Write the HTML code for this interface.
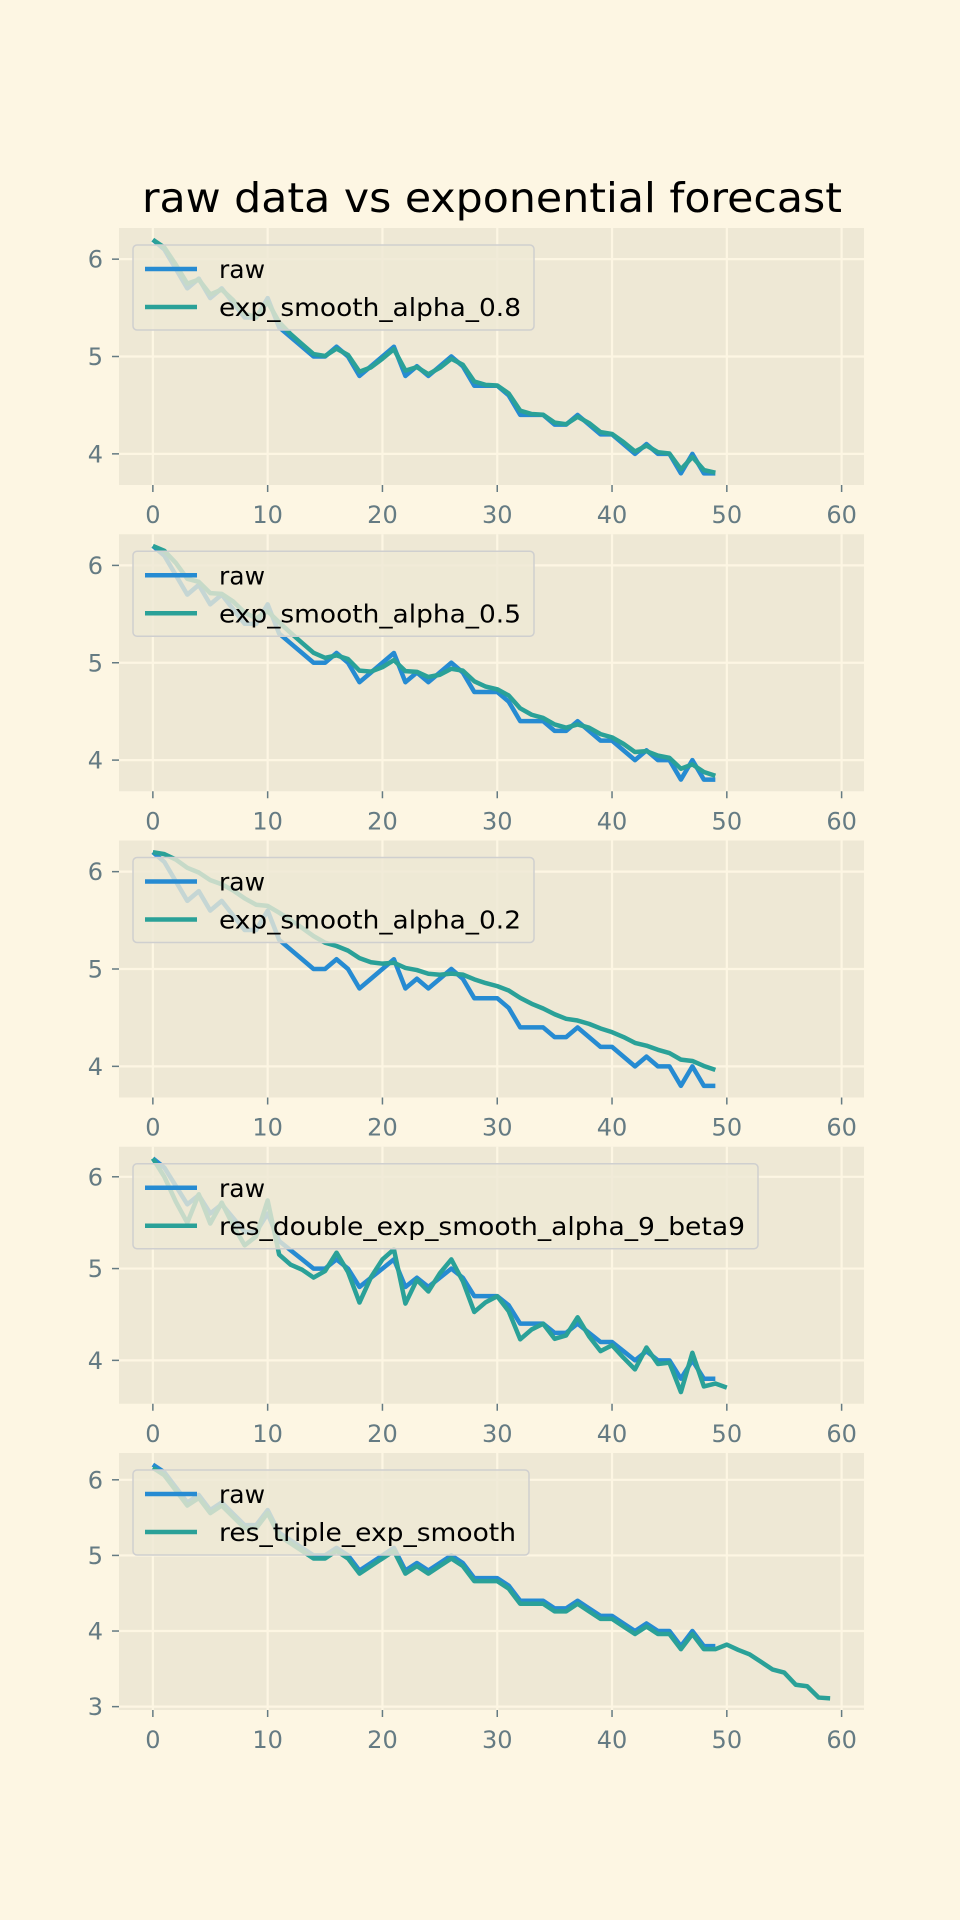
<!DOCTYPE html>
<html><head><meta charset="utf-8"><style>
html,body{margin:0;padding:0;background:#fdf6e3;}
svg{display:block;font-family:"DejaVu Sans","Liberation Sans",sans-serif;}
</style></head><body>
<svg id="fig" width="960" height="1920" viewBox="0 0 960 1920">
<rect width="960" height="1920" fill="#fdf6e3"/>
<text x="492" y="212" font-size="41" text-anchor="middle" fill="#000" textLength="700" lengthAdjust="spacingAndGlyphs">raw data vs exponential forecast</text>
</svg>
<script>
const raw=[6.2,6.1,5.9,5.7,5.8,5.6,5.7,5.55,5.4,5.4,5.6,5.3,5.2,5.1,5.0,5.0,5.1,5.0,4.8,4.9,5.0,5.1,4.8,4.9,4.8,4.9,5.0,4.9,4.7,4.7,4.7,4.6,4.4,4.4,4.4,4.3,4.3,4.4,4.3,4.2,4.2,4.1,4.0,4.1,4.0,4.0,3.8,4.0,3.8,3.8];
const tripleForecast=[3.82,3.75,3.69,3.59,3.49,3.45,3.29,3.27,3.12,3.11];
const tripleOffset=-0.04;
const xTicks=[0,10,20,30,40,50,60];
const seriesNames=["exp_smooth_alpha_0.8","exp_smooth_alpha_0.5","exp_smooth_alpha_0.2","res_double_exp_smooth_alpha_9_beta9","res_triple_exp_smooth"];
const legendWidths=[401,401,401,625,396];

function expSmooth(s,a){const r=[s[0]];for(let i=1;i<s.length;i++)r.push(a*s[i]+(1-a)*r[i-1]);return r;}
function doubleExp(s,a,b){const r=[s[0]];let level=s[0],trend=s[1]-s[0];
 for(let n=1;n<=s.length;n++){const v=n>=s.length?r[r.length-1]:s[n];const last=level;
  level=a*v+(1-a)*(level+trend);trend=b*(level-last)+(1-b)*trend;r.push(level+trend);}return r;}
const series2=[expSmooth(raw,0.8),expSmooth(raw,0.5),expSmooth(raw,0.2),doubleExp(raw,0.9,0.9),
  raw.map(v=>v+tripleOffset).concat(tripleForecast)];

const NS="http://www.w3.org/2000/svg";
const svg=document.getElementById('fig');
function mk(tag,attrs,parent){const e=document.createElementNS(NS,tag);for(const k in attrs)e.setAttribute(k,attrs[k]);(parent||svg).appendChild(e);return e;}
const L=119,R=864,H=257,xmin=-2.95,xmax=61.95;
const xs=v=>L+(v-xmin)/(xmax-xmin)*(R-L);
for(let p=0;p<5;p++){
 const T=228+p*306.25,B=T+H;
 const g=mk('g',{});
 
 
 const s2=series2[p];const all=raw.concat(s2);
 const lo=Math.min(...all),hi=Math.max(...all),m=(hi-lo)*0.05;
 const ymin=lo-m,ymax=hi+m;
 const ys=v=>B-(v-ymin)/(ymax-ymin)*H;
 mk('rect',{x:L,y:T,width:R-L,height:H,fill:'#eee8d5'},g);
 for(const t of xTicks){const x=xs(t);
  mk('line',{x1:x,x2:x,y1:T,y2:B,stroke:'#fdf6e3','stroke-width':2.2},g);
  mk('line',{x1:x,x2:x,y1:B,y2:B+7,stroke:'#657b83','stroke-width':1.5},g);
  const tl=mk('text',{x:x,y:B+38,'font-size':24,fill:'#657b83','text-anchor':'middle'},g);tl.textContent=t;
  
  }
 for(let t=Math.ceil(ymin);t<=Math.floor(ymax);t++){const y=ys(t);
  mk('line',{x1:L,x2:R,y1:y,y2:y,stroke:'#fdf6e3','stroke-width':2.2},g);
  mk('line',{x1:L-7,x2:L,y1:y,y2:y,stroke:'#657b83','stroke-width':1.5},g);
  const tl=mk('text',{x:103,y:y+8.5,'font-size':24,fill:'#657b83','text-anchor':'end'},g);tl.textContent=t;
  
  }
 const l1=mk('polyline',{points:raw.map((v,i)=>xs(i)+','+ys(v)).join(' '),fill:'none',stroke:'#268bd2','stroke-width':4.5,'stroke-linejoin':'round'},g);
 
 
 const l2=mk('polyline',{points:s2.map((v,i)=>xs(i)+','+ys(v)).join(' '),fill:'none',stroke:'#2aa198','stroke-width':4.5,'stroke-linejoin':'round'},g);
 
 
 const lg=mk('g',{},g);
 
 
 const ly=T+17;
 mk('rect',{x:133,y:ly,width:legendWidths[p],height:85,rx:4,fill:'#eee8d5','fill-opacity':0.8,stroke:'#cfcfcf','stroke-width':1.5},lg);
 mk('line',{x1:145,x2:197,y1:ly+24,y2:ly+24,stroke:'#268bd2','stroke-width':4.5},lg);
 mk('line',{x1:145,x2:197,y1:ly+62,y2:ly+62,stroke:'#2aa198','stroke-width':4.5},lg);
 const t1=mk('text',{x:219,y:ly+33,'font-size':25,fill:'#000'},lg);t1.textContent='raw';
 
 
 const t2=mk('text',{x:219,y:ly+71,'font-size':25,fill:'#000',textLength:legendWidths[p]-99,lengthAdjust:'spacingAndGlyphs'},lg);t2.textContent=seriesNames[p];
 
 
}
</script>
</body></html>
